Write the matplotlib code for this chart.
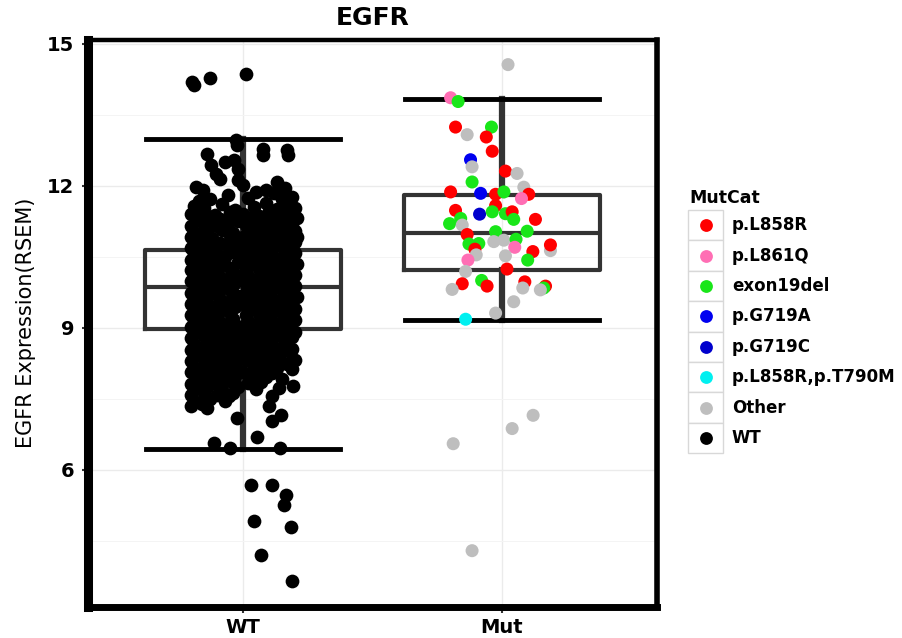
import matplotlib
matplotlib.use("Agg")
import matplotlib.pyplot as plt
from matplotlib.patches import Rectangle
import numpy as np

plt.rcParams['font.family'] = ['DejaVu Sans']

# ---------------- data ----------------
groups = ["WT", "Mut"]
y_ticks = [6, 9, 12, 15]

# box statistics
box_q1 = [8.97, 10.22]
box_median = [9.86, 11.00]
box_q3 = [10.64, 11.80]
whisk_low = [6.43, 9.17]
whisk_high = [12.98, 13.84]

# WT points: expression values and horizontal jitter
wt_expr = [
    14.20, 14.12, 14.28, 14.37, 12.96, 12.86, 12.78, 12.66, 12.76, 12.64, 12.68, 12.55,
    12.43, 12.50, 12.35, 12.15, 12.25, 11.97, 11.92, 11.73, 12.12, 12.08, 11.87, 11.76,
    11.95, 11.85, 11.80, 11.92, 11.72, 12.02, 11.68, 11.75,
    11.58, 11.52, 11.61, 11.49, 11.55, 11.63, 11.50, 11.57, 11.53,
    11.40, 11.45, 11.38, 11.44, 11.41, 11.36, 11.47, 11.39, 11.43,
    11.27, 11.33, 11.29, 11.25, 11.32, 11.28, 11.34, 11.26, 11.31,
    11.16, 11.20, 11.14, 11.21, 11.17, 11.15, 11.19, 11.22, 11.16,
    11.03, 11.08, 11.06, 11.01, 11.07, 11.04, 11.09, 11.02, 11.05,
    10.91, 10.95, 10.90, 10.96, 10.92, 10.94, 10.89, 10.97, 10.93, 10.91,
    10.80, 10.84, 10.79, 10.85, 10.81, 10.83, 10.78, 10.86, 10.82,
    10.68, 10.72, 10.67, 10.73, 10.69, 10.71, 10.66, 10.74, 10.70,
    10.56, 10.60, 10.55, 10.61, 10.57, 10.59, 10.54, 10.62, 10.58,
    10.44, 10.48, 10.43, 10.49, 10.45, 10.47, 10.42, 10.50, 10.46,
    10.33, 10.37, 10.32, 10.38, 10.34, 10.36, 10.31, 10.39, 10.35,
    10.21, 10.25, 10.20, 10.26, 10.22, 10.24, 10.19, 10.27, 10.23,
    10.09, 10.13, 10.08, 10.14, 10.10, 10.12, 10.07, 10.15, 10.11,
    9.98, 10.02, 9.97, 10.03, 9.99, 10.01, 9.96, 10.04, 10.00,
    9.86, 9.90, 9.85, 9.91, 9.87, 9.89, 9.84, 9.92, 9.88,
    9.74, 9.78, 9.73, 9.79, 9.75, 9.77, 9.72, 9.80, 9.76,
    9.62, 9.66, 9.61, 9.67, 9.63, 9.65, 9.60, 9.68, 9.64,
    9.50, 9.54, 9.49, 9.55, 9.51, 9.53, 9.48, 9.56, 9.52,
    9.38, 9.42, 9.37, 9.43, 9.39, 9.41, 9.36, 9.44, 9.40,
    9.26, 9.30, 9.25, 9.31, 9.27, 9.29, 9.24, 9.32, 9.28,
    9.14, 9.18, 9.13, 9.19, 9.15, 9.17, 9.12, 9.20, 9.16,
    9.02, 9.06, 9.01, 9.07, 9.03, 9.05, 9.00, 9.08, 9.04,
    8.90, 8.94, 8.89, 8.95, 8.91, 8.93, 8.88, 8.96, 8.92,
    8.78, 8.82, 8.77, 8.83, 8.79, 8.81, 8.76, 8.84, 8.80,
    8.66, 8.70, 8.65, 8.71, 8.67, 8.69, 8.64, 8.72,
    8.54, 8.58, 8.53, 8.59, 8.55, 8.57, 8.52, 8.60, 8.56,
    8.42, 8.46, 8.41, 8.47, 8.43, 8.45, 8.40, 8.48,
    8.30, 8.34, 8.29, 8.35, 8.31, 8.33, 8.28, 8.36, 8.32,
    8.18, 8.22, 8.17, 8.23, 8.19, 8.21, 8.16, 8.24,
    8.06, 8.10, 8.05, 8.11, 8.07, 8.09, 8.04, 8.12,
    7.94, 7.98, 7.93, 7.99, 7.95, 7.97, 7.92,
    7.82, 7.86, 7.81, 7.87, 7.83, 7.85,
    7.70, 7.74, 7.69, 7.75, 7.71,
    7.58, 7.62, 7.57, 7.63,
    7.46, 7.50, 7.45,
    7.34, 7.38, 7.31,
    7.73, 7.77, 7.55, 7.34, 7.15, 7.03, 7.10, 6.70, 6.56, 6.45, 6.45, 5.67,
    5.67, 5.46, 5.25, 4.92, 4.78, 4.19, 3.64, 7.55,
]
wt_jitter = [
    -0.196, -0.190, -0.129, 0.010, -0.028, -0.025, 0.075, 0.075, 0.171, 0.175, -0.138, -0.035,
    -0.125, -0.070, -0.020, -0.090, -0.105, -0.183, -0.155, -0.130, -0.020, 0.132, 0.050, 0.190,
    0.160, 0.120, -0.060, 0.090, 0.150, 0.000, -0.170, 0.020,
    -0.19, -0.15, -0.08, -0.03, 0.04, 0.09, 0.13, 0.17, 0.20,
    -0.20, -0.16, -0.11, -0.05, 0.00, 0.06, 0.10, 0.15, 0.19,
    -0.18, -0.13, -0.09, -0.02, 0.03, 0.08, 0.12, 0.17, 0.21,
    -0.20, -0.15, -0.10, -0.06, 0.01, 0.05, 0.11, 0.14, 0.19,
    -0.19, -0.14, -0.08, -0.04, 0.02, 0.07, 0.10, 0.16, 0.20,
    -0.20, -0.16, -0.12, -0.05, 0.00, 0.04, 0.09, 0.13, 0.18, 0.21,
    -0.18, -0.13, -0.09, -0.03, 0.03, 0.08, 0.12, 0.16, 0.20,
    -0.20, -0.15, -0.11, -0.06, -0.01, 0.05, 0.10, 0.14, 0.19,
    -0.19, -0.14, -0.10, -0.04, 0.02, 0.06, 0.11, 0.17, 0.20,
    -0.20, -0.16, -0.11, -0.07, 0.00, 0.04, 0.09, 0.15, 0.19,
    -0.18, -0.13, -0.08, -0.02, 0.03, 0.08, 0.12, 0.16, 0.21,
    -0.20, -0.15, -0.10, -0.05, 0.01, 0.06, 0.10, 0.14, 0.19,
    -0.19, -0.14, -0.09, -0.03, 0.02, 0.07, 0.11, 0.17, 0.20,
    -0.20, -0.16, -0.12, -0.06, 0.00, 0.05, 0.09, 0.13, 0.18,
    -0.18, -0.13, -0.08, -0.04, 0.03, 0.08, 0.12, 0.16, 0.20,
    -0.20, -0.15, -0.11, -0.05, 0.01, 0.04, 0.10, 0.15, 0.19,
    -0.19, -0.14, -0.09, -0.02, 0.02, 0.07, 0.11, 0.17, 0.21,
    -0.20, -0.16, -0.10, -0.06, 0.00, 0.05, 0.09, 0.14, 0.18,
    -0.18, -0.13, -0.08, -0.03, 0.03, 0.08, 0.12, 0.16, 0.20,
    -0.20, -0.15, -0.11, -0.05, 0.01, 0.06, 0.10, 0.15, 0.19,
    -0.19, -0.14, -0.09, -0.04, 0.02, 0.07, 0.11, 0.17, 0.20,
    -0.20, -0.16, -0.12, -0.06, 0.00, 0.04, 0.09, 0.13, 0.18,
    -0.18, -0.13, -0.08, -0.02, 0.03, 0.08, 0.12, 0.16, 0.20,
    -0.20, -0.15, -0.10, -0.05, 0.01, 0.05, 0.10, 0.14, 0.19,
    -0.19, -0.14, -0.09, -0.03, 0.02, 0.07, 0.11, 0.17,
    -0.20, -0.16, -0.11, -0.06, 0.00, 0.05, 0.09, 0.15, 0.19,
    -0.18, -0.13, -0.08, -0.02, 0.03, 0.08, 0.12, 0.18,
    -0.20, -0.15, -0.10, -0.05, 0.01, 0.06, 0.10, 0.14, 0.20,
    -0.19, -0.14, -0.09, -0.03, 0.04, 0.08, 0.13, 0.17,
    -0.20, -0.16, -0.12, -0.06, 0.00, 0.06, 0.11, 0.19,
    -0.18, -0.13, -0.08, -0.03, 0.03, 0.09, 0.15,
    -0.20, -0.15, -0.10, -0.05, 0.02, 0.07,
    -0.19, -0.14, -0.08, -0.02, 0.05,
    -0.20, -0.15, -0.10, -0.04,
    -0.19, -0.13, -0.07,
    -0.20, -0.16, -0.14,
    0.140, 0.193, 0.113, 0.100, 0.145, 0.113, -0.022, 0.055, -0.112, -0.050, 0.142, 0.030,
    0.110, 0.165, 0.158, 0.042, 0.184, 0.068, 0.190, -0.055,
]

# Mut points
mut_expr = [
    14.56, 13.86, 13.78, 13.24, 13.08, 13.24, 13.03, 12.73, 12.55, 12.40, 12.31, 12.26,
    12.08, 11.97, 11.87, 11.84, 11.82, 11.87, 11.82, 11.73, 11.58, 11.48, 11.31, 11.40,
    11.45, 11.41, 11.45, 11.29, 11.29, 11.20, 11.17, 10.97, 11.03, 11.04, 10.77, 10.78,
    10.66, 10.54, 10.82, 10.85, 10.87, 10.70, 10.63, 10.75, 10.61, 10.43, 10.52, 10.43,
    10.24, 10.19, 9.93, 9.81, 10.00, 9.88, 9.97, 9.84, 9.88, 9.84, 9.80, 9.55,
    9.31, 9.18, 7.15, 6.87, 6.55, 4.29,
]
mut_jitter = [
    0.024, -0.198, -0.169, -0.179, -0.134, -0.040, -0.060, -0.037, -0.121, -0.115, 0.014, 0.059,
    -0.115, 0.085, -0.198, -0.082, -0.024, 0.008, 0.104, 0.076, -0.024, -0.179, -0.159, -0.086,
    -0.037, 0.014, 0.040, 0.046, 0.130, -0.202, -0.153, -0.134, -0.024, 0.098, -0.127, -0.089,
    -0.104, -0.099, -0.031, 0.008, 0.055, 0.050, 0.188, 0.188, 0.120, 0.100, 0.014, -0.131,
    0.020, -0.140, -0.153, -0.192, -0.078, -0.057, 0.089, 0.081, 0.169, 0.162, 0.149, 0.046,
    -0.024, -0.140, 0.121, 0.040, -0.188, -0.115,
]
mut_cat = [
    "Other", "p.L861Q", "exon19del", "p.L858R", "Other", "exon19del", "p.L858R", "p.L858R",
    "p.G719A", "Other", "p.L858R", "Other",
    "exon19del", "Other", "p.L858R", "p.G719A", "p.L858R", "exon19del", "p.L858R", "p.L861Q",
    "p.L858R", "p.L858R", "exon19del", "p.G719C",
    "exon19del", "exon19del", "p.L858R", "exon19del", "p.L858R", "exon19del", "Other", "p.L858R",
    "exon19del", "exon19del", "exon19del", "exon19del",
    "p.L858R", "Other", "Other", "Other", "exon19del", "p.L861Q", "Other", "p.L858R",
    "p.L858R", "exon19del", "Other", "p.L861Q",
    "p.L858R", "Other", "p.L858R", "Other", "exon19del", "p.L858R", "p.L858R", "Other",
    "p.L858R", "exon19del", "Other", "Other",
    "Other", "p.L858R,p.T790M", "Other", "Other", "Other", "Other",
]

legend_cats = ["p.L858R", "p.L861Q", "exon19del", "p.G719A", "p.G719C",
               "p.L858R,p.T790M", "Other", "WT"]
cat_colors = {
    "p.L858R": "#FF0000",
    "p.L861Q": "#FF6EB4",
    "exon19del": "#19E619",
    "p.G719A": "#0000F0",
    "p.G719C": "#0000CD",
    "p.L858R,p.T790M": "#00F0F0",
    "Other": "#BEBEBE",
    "WT": "#000000",
}

# ---------------- figure ----------------
W, H = 902, 638
fig = plt.figure(figsize=(W / 100, H / 100), dpi=100)
fig.patch.set_facecolor("white")

L, R, T, B = 88, 657, 40, 607
ax = fig.add_axes([L / W, 1 - B / H, (R - L) / W, (B - T) / H])
ax.set_facecolor("white")
ax.set_xlim(0.4, 2.6)
ax.set_ylim(3.1, 15.08)

# grid
ax.set_yticks(y_ticks)
ax.set_yticks([4.5, 7.5, 10.5, 13.5], minor=True)
ax.set_xticks([1, 2])
ax.set_xticklabels(groups)
ax.grid(True, which="major", color="#EBEBEB", linewidth=1.0, zorder=0)
ax.grid(True, which="minor", axis="y", color="#F4F4F4", linewidth=0.7, zorder=0)
ax.set_axisbelow(True)

# boxes
stats = []
for i in range(len(groups)):
    stats.append(dict(med=box_median[i], q1=box_q1[i], q3=box_q3[i],
                      whislo=whisk_low[i], whishi=whisk_high[i], fliers=[]))
ax.bxp(stats, positions=[1, 2], widths=0.76, capwidths=0.75, showfliers=False,
       boxprops=dict(color="#333333", linewidth=3.0),
       medianprops=dict(color="#333333", linewidth=3.0),
       whiskerprops=dict(color="#333333", linewidth=4.5),
       capprops=dict(color="#000000", linewidth=3.5),
       zorder=2, manage_ticks=False)

# points
ax.scatter(1 + np.array(wt_jitter), wt_expr, s=98, color="black",
           linewidths=0, zorder=3)
ax.scatter(2 + np.array(mut_jitter), mut_expr, s=88,
           color=[cat_colors[c] for c in mut_cat], linewidths=0, zorder=3)

# spines
for side, lw in (("left", 6.5), ("bottom", 5.0), ("top", 3.2), ("right", 4.0)):
    ax.spines[side].set_linewidth(lw)
    ax.spines[side].set_color("black")

ax.tick_params(axis="y", which="major", length=4, width=1.5, color="#333333",
               labelsize=14, pad=6)
ax.tick_params(axis="x", which="major", length=4, width=1.5, color="#333333",
               labelsize=14, pad=4)
ax.tick_params(which="minor", length=0)
for lab in ax.get_yticklabels() + ax.get_xticklabels():
    lab.set_fontweight("bold")
    lab.set_color("black")

# title and axis label
fig.text((L + R) / 2 / W, 1 - 18 / H, "EGFR", ha="center", va="center",
         fontsize=18, fontweight="bold")
fig.text(26 / W, 1 - 323 / H, "EGFR Expression(RSEM)", ha="center", va="center",
         rotation=90, fontsize=15)

# legend (manual, ggplot style)
lax = fig.add_axes([0, 0, 1, 1], zorder=5)
lax.set_xlim(0, W)
lax.set_ylim(H, 0)
lax.axis("off")
lax.text(689, 198, "MutCat", ha="left", va="center", fontsize=12.5, fontweight="bold")
key_top, key_h, key_l, key_w = 210, 30.4, 688, 35
for i, cat in enumerate(legend_cats):
    y0 = key_top + i * key_h
    lax.add_patch(Rectangle((key_l, y0), key_w, key_h, facecolor="white",
                            edgecolor="#D8D8D8", linewidth=1.0))
    lax.scatter([key_l + key_w / 2], [y0 + key_h / 2], s=85, color=cat_colors[cat],
                linewidths=0)
    lax.text(732, y0 + key_h / 2, cat, ha="left", va="center", fontsize=12,
             fontweight="bold")

fig.savefig("out.png", dpi=100, facecolor="white")
